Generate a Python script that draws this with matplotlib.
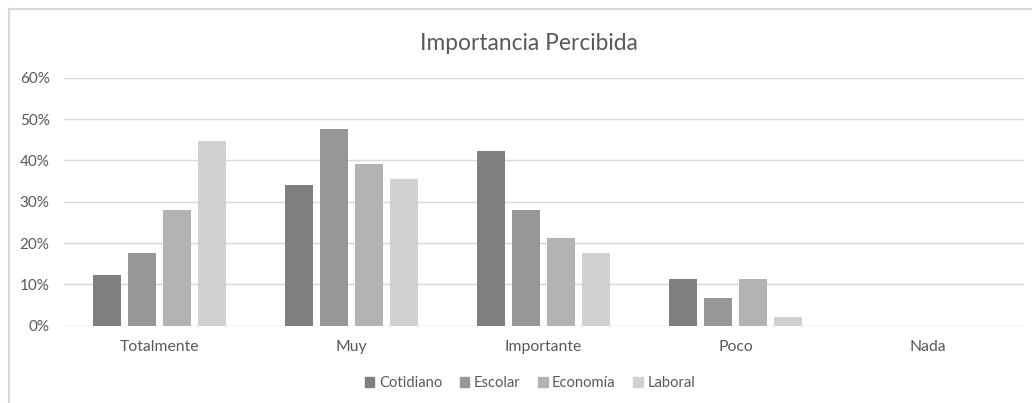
import matplotlib
matplotlib.use("Agg")
import matplotlib.pyplot as plt
from matplotlib.lines import Line2D
import numpy as np

categories = ["Totalmente", "Muy", "Importante", "Poco", "Nada"]
series_names = ["Cotidiano", "Escolar", "Economía", "Laboral"]
cotidiano = [12.3, 34.0, 42.2, 11.3, 0.0]
escolar = [17.5, 47.7, 28.0, 6.7, 0.0]
economia = [28.0, 39.2, 21.2, 11.3, 0.0]
laboral = [44.7, 35.5, 17.5, 2.2, 0.0]
y_ticks = [0, 10, 20, 30, 40, 50, 60]

series_values = [cotidiano, escolar, economia, laboral]
colors = ["#7f7f7f", "#979797", "#b3b3b3", "#d1d1d1"]
text_color = "#595959"
font = "Lato"

fig = plt.figure(figsize=(10.32, 4.03), dpi=100)
ax = fig.add_axes([63.5 / 1032, 1 - 325.7 / 403, 960 / 1032, 248 / 403])

x = np.arange(len(categories))
pitch = 0.182
width = 0.143
for i, (name, vals, c) in enumerate(zip(series_names, series_values, colors)):
    ax.bar(x + (i - 1.5) * pitch, vals, width=width, color=c, label=name, zorder=3)

ax.set_xlim(-0.5, len(categories) - 0.5)
ax.set_ylim(0, 60)
ax.set_yticks(y_ticks)
ax.set_yticklabels([f"{v}%" for v in y_ticks], fontfamily=font, fontsize=11, color=text_color)
ax.set_xticks(x)
ax.set_xticklabels(categories, fontfamily=font, fontsize=11.3, color=text_color)
ax.tick_params(axis="both", length=0)
ax.tick_params(axis="y", pad=10)
ax.tick_params(axis="x", pad=10.5)
ax.grid(axis="y", color="#d9d9d9", linewidth=1, zorder=0)
for s in ax.spines.values():
    s.set_visible(False)

fig.text(529 / 1032, 1 - 43 / 403, "Importancia Percibida", ha="center", va="center",
         fontfamily=font, fontsize=16.4, color=text_color)

handles = [plt.Rectangle((0, 0), 1, 1, color=c) for c in colors]
fig.legend(handles, series_names, loc="center", bbox_to_anchor=(530 / 1032, 1 - 383 / 403),
           ncol=4, frameon=False, prop={"family": font, "size": 10.6}, labelcolor=text_color,
           handlelength=0.65, handleheight=0.65, handletextpad=0.3, columnspacing=1.2)

# chart frame
fig.add_artist(Line2D([8.5 / 1032, 8.5 / 1032], [0, 1 - 8.5 / 403], color="#d9d9d9", linewidth=1.5,
                      transform=fig.transFigure))
fig.add_artist(Line2D([8.5 / 1032, 1], [1 - 8.5 / 403, 1 - 8.5 / 403], color="#d9d9d9", linewidth=1.5,
                      transform=fig.transFigure))

fig.savefig("out.png", dpi=100, facecolor="white")
